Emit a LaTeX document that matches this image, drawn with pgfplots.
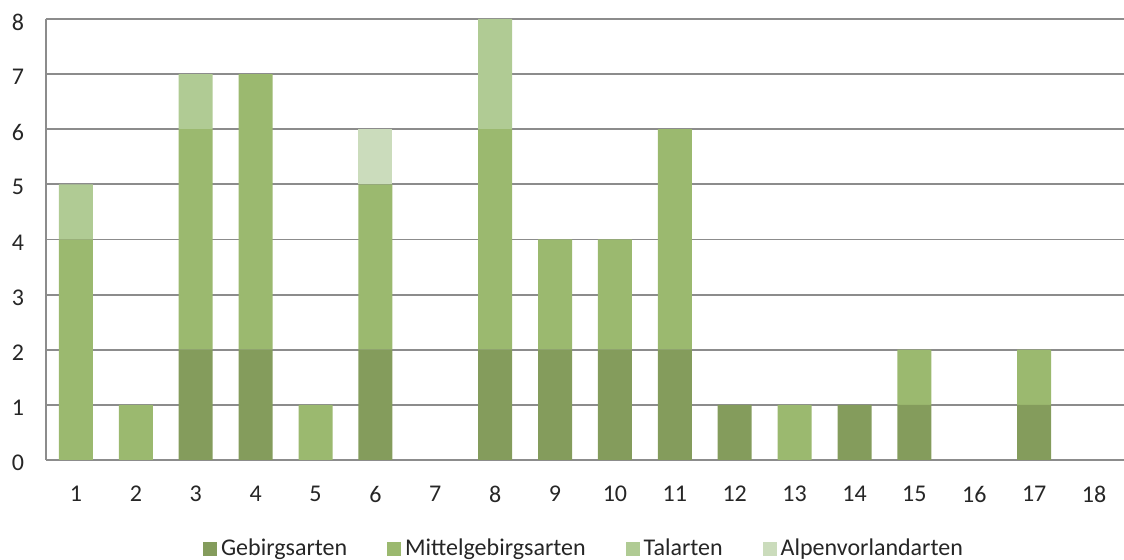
\documentclass[border=0pt]{standalone}
\usepackage{pgfplots}
\pgfplotsset{compat=1.18}
\usepackage{pgfplotstable}
\usepackage{fontspec}
\setmainfont{Carlito}
\definecolor{geb}{HTML}{849C5C}
\definecolor{mit}{HTML}{9BB96F}
\definecolor{tal}{HTML}{B0CB94}
\definecolor{alp}{HTML}{CBDCBC}
\definecolor{gridc}{HTML}{8C8C8C}
\pgfplotstableread{
x geb mit tal alp
1 0 4 1 0
2 0 1 0 0
3 2 4 1 0
4 2 5 0 0
5 0 1 0 0
6 2 3 0 1
7 0 0 0 0
8 2 4 2 0
9 2 2 0 0
10 2 2 0 0
11 2 4 0 0
12 1 0 0 0
13 0 1 0 0
14 1 0 0 0
15 1 1 0 0
16 0 0 0 0
17 1 1 0 0
18 0 0 0 0
}\datatable
\begin{document}
\begin{tikzpicture}
\useasboundingbox (-23pt,-50pt) rectangle (539pt,230pt);
\begin{axis}[
  scale only axis,
  width=539pt, height=220.5pt,
  ybar stacked,
  bar width=17pt,
  xmin=0.5, xmax=18.5,
  ymin=0, ymax=8,
  xtick={1,...,18},
  ytick={0,...,8},
  axis x line*=bottom,
  axis y line*=left,
  axis line style={gridc, line width=0.9pt, -},
  ymajorgrids,
  grid style={gridc, line width=0.9pt},
  major tick length=0pt,
  tick style={draw=none},
  font=\fontsize{12}{14}\selectfont,
  ticklabel style={font=\fontsize{12}{14}\selectfont, text=black!85},
  /pgf/number format/assume math mode=true,
  xticklabel style={anchor=center, yshift=-17pt},
  yticklabel style={anchor=east, xshift=-7.5pt, yshift=-1.5pt},
  legend columns=4,
  legend style={draw=none, at={(0.5,-0.202)}, anchor=center,
    font=\fontsize{12}{14}\selectfont, text=black!85,
    /tikz/every even column/.append style={column sep=18pt},
    inner sep=0pt},
  legend image code/.code={\fill[#1] (0pt,-3.5pt) rectangle (7pt,3.5pt);},
  axis on top=false,
]
\addplot[fill=geb, draw=none] table[x=x, y=geb] {\datatable};
\addplot[fill=mit, draw=none] table[x=x, y=mit] {\datatable};
\addplot[fill=tal, draw=none] table[x=x, y=tal] {\datatable};
\addplot[fill=alp, draw=none] table[x=x, y=alp] {\datatable};
\legend{Gebirgsarten, Mittelgebirgsarten, Talarten, Alpenvorlandarten}
\end{axis}
\end{tikzpicture}
\end{document}
